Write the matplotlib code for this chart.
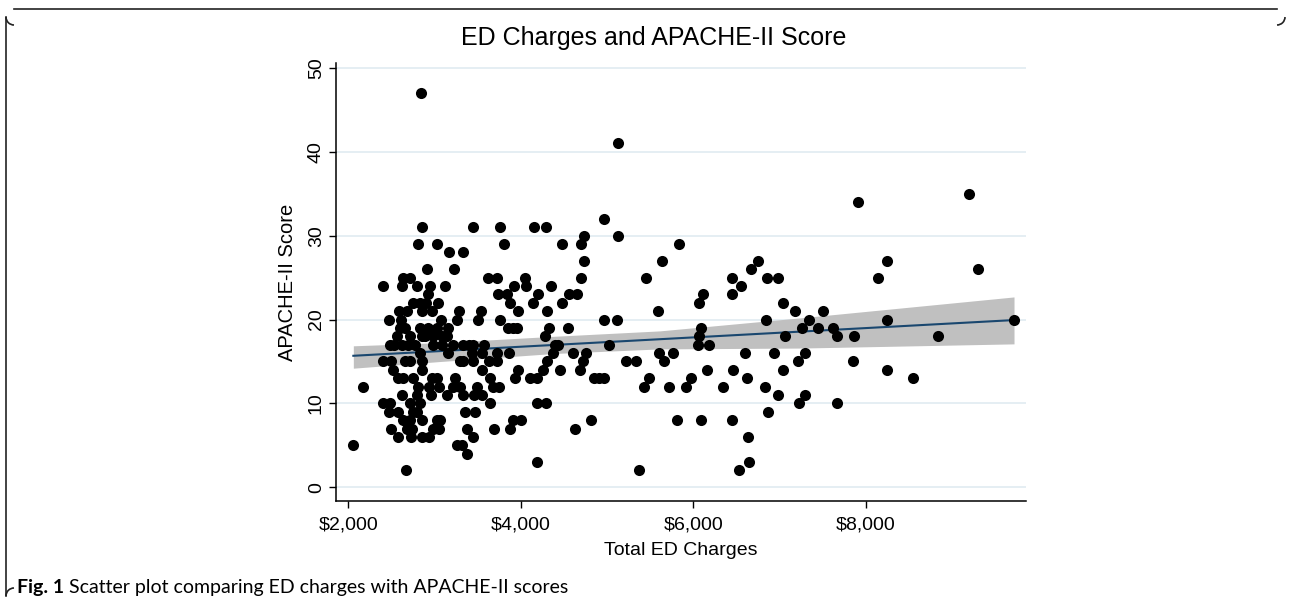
import numpy as np
import matplotlib
matplotlib.use("Agg")
import matplotlib.pyplot as plt
from matplotlib.patches import Arc
from matplotlib.ticker import FuncFormatter

# APACHE-II score -> ED charges ($), one list per score
charges_by_score = {
    47: [2843],
    41: [5131],
    35: [9200],
    34: [7906],
    32: [4969],
    31: [2850, 3442, 3759, 4157, 4292],
    30: [4733, 5131],
    29: [2812, 3024, 3809, 4481, 4694, 5834],
    28: [3171, 3334],
    27: [4733, 5641, 6747, 8242],
    26: [2908, 3229, 6666, 9305],
    25: [2638, 2715, 3623, 3720, 4049, 4694, 5448, 6445, 6851, 6979, 8137],
    24: [2406, 2618, 2792, 2947, 3121, 3921, 4060, 4346, 6550],
    23: [2928, 3739, 3836, 4203, 4563, 4648, 6117, 6445],
    22: [2754, 2831, 2897, 3044, 3875, 4145, 4474, 6070, 7038],
    21: [2591, 2676, 2850, 2966, 3283, 3535, 3971, 4308, 5595, 7179, 7500],
    20: [2475, 2607, 3075, 3256, 3500, 3759, 4960, 5120, 6840, 7345, 8242, 9722],
    19: [2599, 2657, 2831, 2928, 3024, 3160, 3855, 3906, 3952, 4331, 4543,
         6090, 7256, 7442, 7616],
    18: [2560, 2715, 2850, 2889, 2986, 3082, 3140, 4280, 6070, 7063, 7670,
         7863, 8841],
    17: [2483, 2530, 2618, 2696, 2773, 2978, 3082, 3217, 3334, 3403, 3450,
         3573, 4396, 4435, 5027, 6059, 6182],
    16: [2831, 3160, 3430, 3546, 3720, 3867, 4377, 4601, 4756, 5606, 5769,
         6596, 6940, 7295],
    15: [2398, 2491, 2657, 2715, 2850, 3295, 3326, 3442, 3635, 3728, 4308,
         4717, 5220, 5336, 5661, 7218, 7848],
    14: [2522, 2850, 3546, 3971, 4261, 4455, 4686, 6155, 6465, 7044, 8250],
    13: [2580, 2630, 2754, 2966, 3024, 3237, 3643, 3933, 4107, 4192, 4849,
         4910, 4965, 5491, 5970, 6627, 8551],
    12: [2174, 2812, 2939, 3055, 3218, 3295, 3488, 3681, 3751, 5432, 5722,
         5916, 6349, 6836],
    11: [2618, 2792, 2955, 3148, 3334, 3457, 3546, 6986, 7295],
    10: [2398, 2483, 2715, 2831, 3643, 4192, 4292, 7229, 7670],
    9: [2475, 2572, 2754, 2800, 3353, 3469, 6870],
    8: [2638, 2715, 2850, 3024, 3063, 3906, 3998, 4814, 5815, 6090, 6453],
    7: [2491, 2676, 2734, 2986, 3055, 3372, 3689, 3875, 4628],
    6: [2580, 2723, 2850, 2939, 3442, 6639],
    5: [2058, 3264, 3314],
    4: [3372],
    3: [4184, 6650],
    2: [2665, 5371, 6534],
}

charges = np.array([c for s, cs in charges_by_score.items() for c in cs], float)
scores = np.array([s for s, cs in charges_by_score.items() for c in cs], float)

# linear fit and 95% CI band as drawn in the picture
fit_x = [2058, 9718]
fit_y = [15.68, 19.94]
band_x = [2058, 3068, 4377, 5612, 7237, 9718]
band_lo = [14.2, 15.0, 15.95, 16.5, 16.6, 17.1]
band_hi = [16.87, 17.25, 18.0, 18.65, 20.2, 22.7]

xticks = [2000, 4000, 6000, 8000]
yticks = [0, 10, 20, 30, 40, 50]

plt.rcParams["font.family"] = ["Liberation Sans", "DejaVu Sans"]

fig = plt.figure(figsize=(12.9, 6.07), dpi=100)
ax = fig.add_axes([336 / 1290, 106 / 607, 690 / 1290, 438 / 607])

ax.fill_between(band_x, band_lo, band_hi, color="#c0c0c0", lw=0, zorder=1)
ax.plot(fit_x, fit_y, color="#1a476f", lw=1.5, zorder=2)
ax.scatter(charges, scores, s=64, color="black", lw=0, zorder=3)

ax.set_xlim(1857, 9857)
ax.set_ylim(-1.64, 50.6)
ax.set_xticks(xticks)
ax.set_yticks(yticks)
ax.xaxis.set_major_formatter(FuncFormatter(lambda v, p: "${:,.0f}".format(v)))
ax.tick_params(axis="both", labelsize=14, length=5, width=1, direction="out")
ax.tick_params(axis="x", pad=6)
ax.tick_params(axis="y", pad=3)
for lab in ax.get_yticklabels():
    lab.set_rotation(90)
    lab.set_va("center")

ax.grid(axis="y", color="#e3edf2", lw=1.3, zorder=0)
ax.set_axisbelow(True)
for side in ["top", "right"]:
    ax.spines[side].set_visible(False)
ax.spines["left"].set_linewidth(1.1)
ax.spines["bottom"].set_linewidth(1.1)

ax.set_xlabel("Total ED Charges", fontsize=14, labelpad=6)
ax.set_ylabel("APACHE-II Score", fontsize=14.5, labelpad=8)

fig.text(654 / 1290, 1 - 38 / 607, "ED Charges and APACHE-II Score",
         fontsize=18, ha="center", va="center")

# caption with bold "Fig. 1"
cap_font = ["Lato", "DejaVu Sans"]
cap = fig.text(17 / 1290, 1 - 588 / 607, "Fig. 1", fontsize=14,
               fontweight="bold", family=cap_font, ha="left", va="center")
fig.canvas.draw()
bb = cap.get_window_extent()
fig.text((bb.x1 + 5) / 1290, 1 - 588 / 607,
         "Scatter plot comparing ED charges with APACHE-II scores",
         fontsize=14, family=cap_font, ha="left", va="center")

# frame around the figure (top and left edges with rounded corners)
frame = fig.add_axes([0, 0, 1, 1], zorder=-1)
frame.set_xlim(0, 1290)
frame.set_ylim(607, 0)
frame.axis("off")
r = 8
frame.plot([6, 6], [9 + r, 604 - r], color="#222222", lw=1.2)
frame.plot([6 + r, 1285 - r], [9, 9], color="#222222", lw=1.2)
frame.add_patch(Arc((6 + r, 9 + r), 2 * r, 2 * r, theta1=90, theta2=180,
                    color="#222222", lw=1.2))
frame.add_patch(Arc((1285 - r, 9 + r), 2 * r, 2 * r, theta1=0, theta2=90,
                    color="#222222", lw=1.2))
frame.add_patch(Arc((6 + r, 604 - r), 2 * r, 2 * r, theta1=180, theta2=270,
                    color="#222222", lw=1.2))

fig.savefig("out.png", dpi=100)
